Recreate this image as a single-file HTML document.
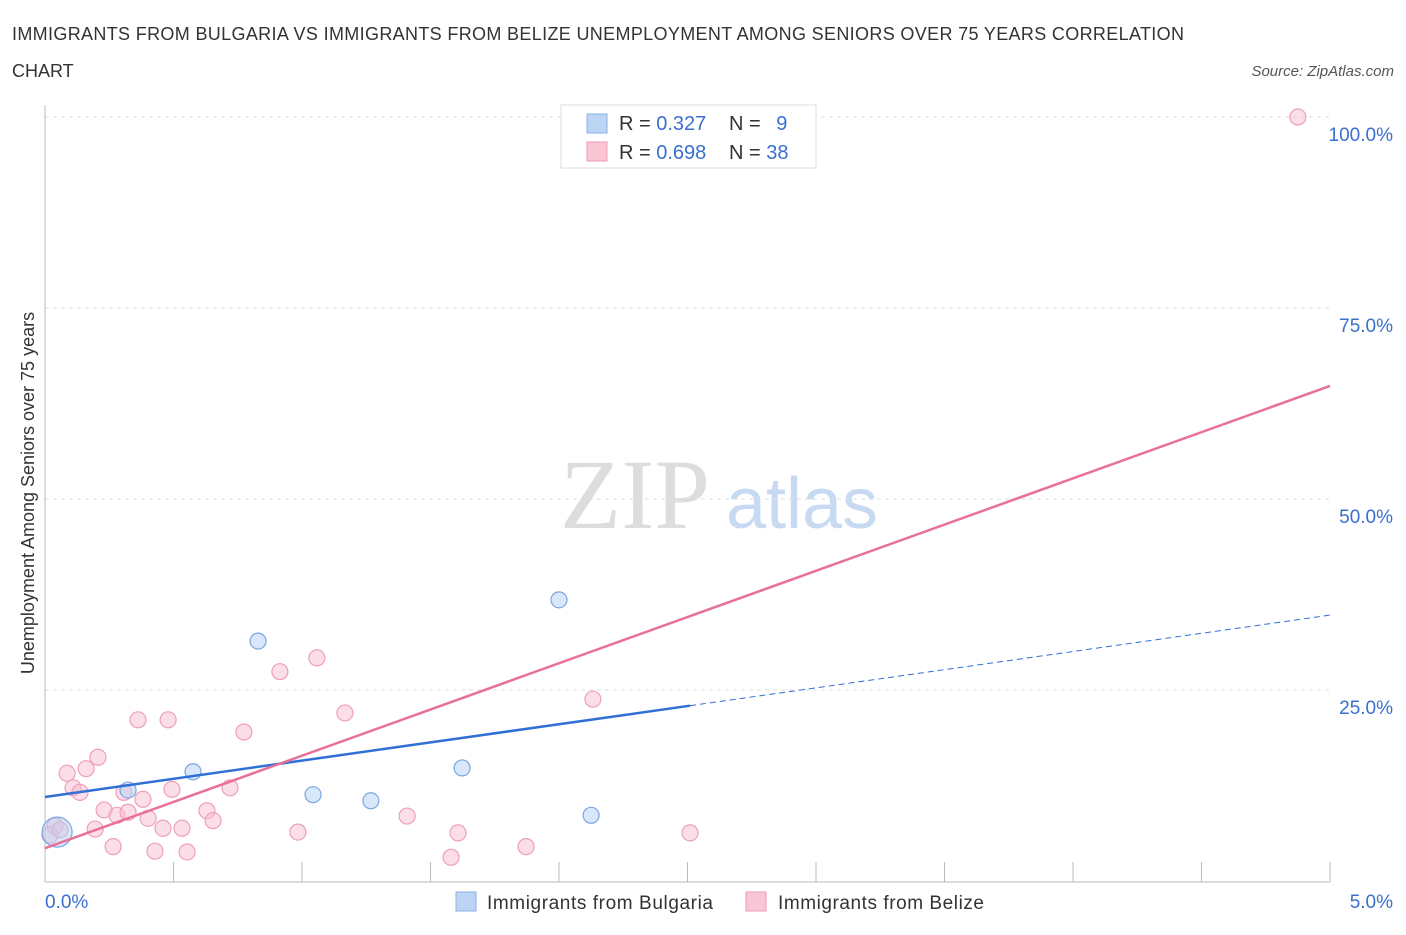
<!DOCTYPE html>
<html><head><meta charset="utf-8"><style>
body{margin:0;background:#fff;font-family:"Liberation Sans",sans-serif;}
</style></head><body>
<svg id="chart" width="1406" height="930" font-family="Liberation Sans, sans-serif">
<text x="12" y="40" font-size="18" fill="#333" textLength="1172">IMMIGRANTS FROM BULGARIA VS IMMIGRANTS FROM BELIZE UNEMPLOYMENT AMONG SENIORS OVER 75 YEARS CORRELATION</text>
<text x="12" y="77" font-size="18" fill="#333">CHART</text>
<text x="1394" y="76" font-size="15" fill="#555" font-style="italic" text-anchor="end">Source: ZipAtlas.com</text>
<text x="635" y="528" font-size="100" fill="#ddd" style="font-family:'Liberation Serif',serif" text-anchor="middle">ZIP</text>
<text x="802" y="528" font-size="72" fill="#c8daf2" text-anchor="middle">atlas</text>
<text transform="translate(34,493) rotate(-90)" font-size="18" fill="#333" text-anchor="middle">Unemployment Among Seniors over 75 years</text>
<g id="grid"></g><g id="marks"></g>
<g>
<rect x="561" y="105" width="255" height="63" fill="#fff" stroke="#ddd"/>
<rect x="587" y="114" width="20" height="19" fill="#bcd5f5" stroke="#8ab0e6"/>
<rect x="587" y="142" width="20" height="19" fill="#f9c6d5" stroke="#ee9ab4"/>
<text x="619" y="130" font-size="20" fill="#333">R = <tspan fill="#3a6fd1">0.327</tspan></text>
<text x="729" y="130" font-size="20" fill="#333">N = <tspan fill="#3a6fd1" dx="10">9</tspan></text>
<text x="619" y="159" font-size="20" fill="#333">R = <tspan fill="#3a6fd1">0.698</tspan></text>
<text x="729" y="159" font-size="20" fill="#333">N = <tspan fill="#3a6fd1">38</tspan></text>
</g>
<g>
<rect x="456" y="892" width="20" height="19" fill="#bcd5f5" stroke="#8ab0e6"/>
<text x="487" y="909" font-size="19" fill="#333" textLength="226">Immigrants from Bulgaria</text>
<rect x="746" y="892" width="20" height="19" fill="#f9c6d5" stroke="#ee9ab4"/>
<text x="778" y="909" font-size="19" fill="#333" textLength="206">Immigrants from Belize</text>
</g>
</svg>
<script>
const xTicks=[0,0.5,1,1.5,2,2.5,3,3.5,4,4.5,5];
const yTicks=[25,50,75,100];
const yTickLabels=["25.0%","50.0%","75.0%","100.0%"];
const bulX=[0.047,0.323,0.576,0.829,1.043,1.268,1.623,2.0,2.125];
const bulY=[6.4,11.9,14.3,31.4,11.3,10.5,14.8,36.8,8.6];
const belX=[0.039,0.086,0.109,0.136,0.160,0.195,0.206,0.230,0.265,0.280,0.307,0.323,0.362,0.381,0.401,0.428,0.459,0.479,0.494,0.533,0.553,0.630,0.654,0.720,0.774,0.914,0.984,1.058,1.167,1.409,1.580,1.607,1.872,2.132,2.510,4.875,0.019,0.058];
const belY=[7.2,14.1,12.2,11.6,14.7,6.8,16.2,9.3,4.5,8.6,11.6,9.0,21.1,10.7,8.2,3.9,6.9,21.1,12.0,6.9,3.8,9.2,7.9,12.2,19.5,27.4,6.4,29.2,22.0,8.5,3.1,6.3,4.5,23.8,6.3,100,6.0,6.7];
const bulTrend=[11.0,4.76]; // intercept, slope
const belTrend=[4.3,12.1];
const bulSolidEnd=2.51;
const NS="http://www.w3.org/2000/svg";
const X=v=>45+v/5*1285, Y=v=>881-v/100*764;
function mk(t,a,p){const e=document.createElementNS(NS,t);for(const k in a)e.setAttribute(k,a[k]);p.appendChild(e);return e;}
const g=document.getElementById('grid'),m=document.getElementById('marks');
yTicks.forEach((t,i)=>{
 const l=mk('line',{x1:45,x2:1330,y1:Y(t),y2:Y(t),stroke:'#ddd','stroke-dasharray':'4,4'},g);
 
 
 const tx=mk('text',{x:1393,y:Y(t)+24,'font-size':19,fill:'#3a6fd1','text-anchor':'end'},g);tx.textContent=yTickLabels[i];
 
 
});
mk('line',{x1:45,x2:45,y1:105,y2:882,stroke:'#bbb'},g);
mk('line',{x1:45,x2:1330,y1:882,y2:882,stroke:'#bbb'},g);
xTicks.forEach(t=>{const l=mk('line',{x1:X(t),x2:X(t),y1:862,y2:882,stroke:'#bbb'},g);
 
 });
let t0=mk('text',{x:45,y:908,'font-size':19,fill:'#3a6fd1'},g);t0.textContent='0.0%';


let t1=mk('text',{x:1393,y:908,'font-size':19,fill:'#3a6fd1','text-anchor':'end'},g);t1.textContent='5.0%';


belX.forEach((v,i)=>{const c=mk('circle',{cx:X(v),cy:Y(belY[i]),r:8,fill:'rgba(248,190,208,0.5)',stroke:'#eea0b8','stroke-width':1.2},m);
 
 });
bulX.forEach((v,i)=>{const c=mk('circle',{cx:X(v),cy:Y(bulY[i]),r:i==0?15:8,fill:'rgba(180,208,245,0.5)',stroke:'#7aa6e0','stroke-width':1.2},m);
 
 });
const ty=(tr,x)=>tr[0]+tr[1]*x;
let l1=mk('line',{x1:X(0),y1:Y(ty(bulTrend,0)),x2:X(bulSolidEnd),y2:Y(ty(bulTrend,bulSolidEnd)),stroke:'#2f6fd6','stroke-width':2.5},m);


let l2=mk('line',{x1:X(bulSolidEnd),y1:Y(ty(bulTrend,bulSolidEnd)),x2:X(5),y2:Y(ty(bulTrend,5)),stroke:'#2f6fd6','stroke-width':1,'stroke-dasharray':'6,4'},m);


let l3=mk('line',{x1:X(0),y1:Y(ty(belTrend,0)),x2:X(5),y2:Y(ty(belTrend,5)),stroke:'#e8709a','stroke-width':2.5},m);


</script>
</body></html>
